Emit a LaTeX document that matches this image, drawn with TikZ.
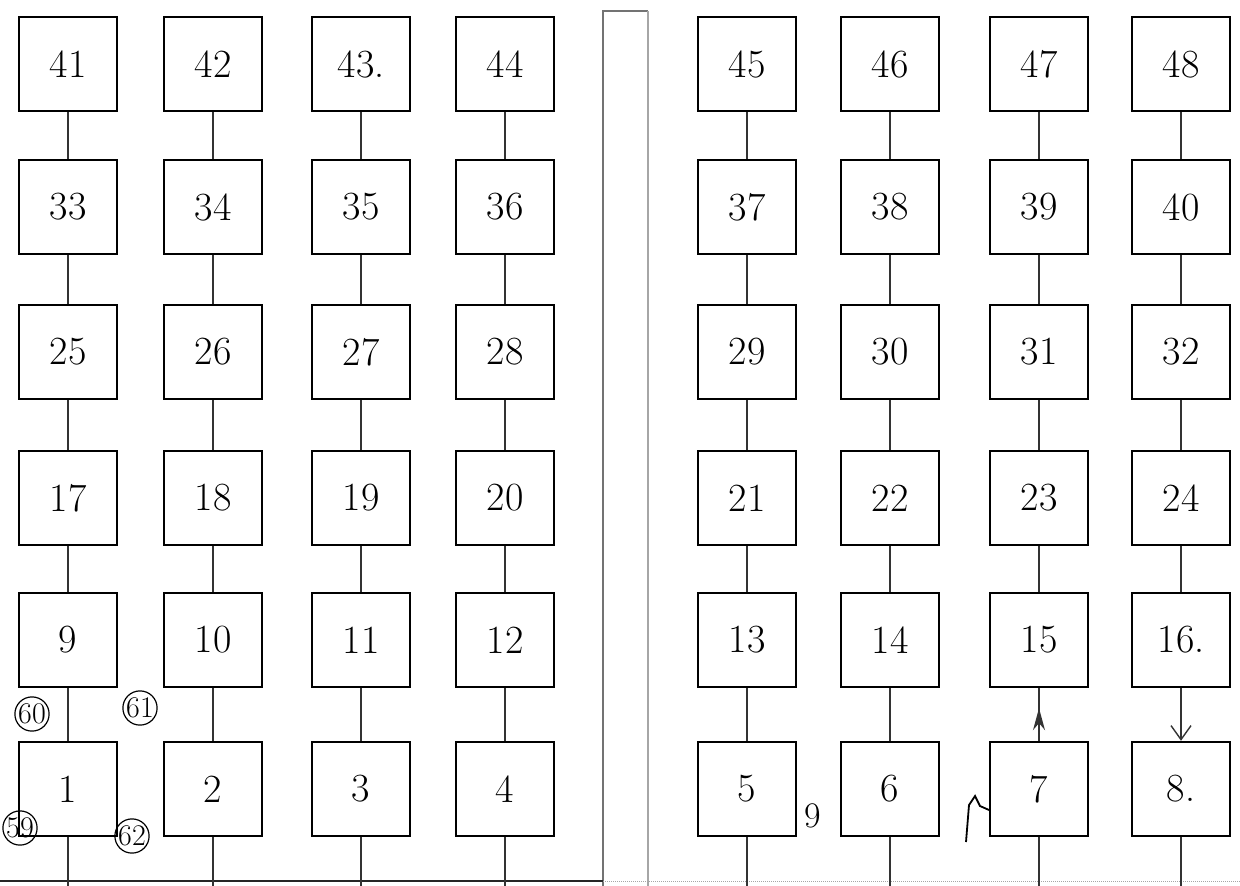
\documentclass[tikz,border=0pt]{standalone}
\usetikzlibrary{arrows.meta,decorations.markings}
\begin{document}
\begin{tikzpicture}[x=1pt,y=-1pt,
  cell/.style={draw, line width=2.4pt, minimum width=98pt, minimum height=94pt, inner sep=0pt, font=\fontsize{40}{42}\selectfont},
  link/.style={line width=1.4pt, black!80},
  note/.style={draw, circle, line width=1.2pt, inner sep=0pt, font=\fontsize{30}{32}\selectfont},
  divider/.style={line width=1.8pt, black!55}]
\useasboundingbox (0,0) rectangle (1240,886);
\coordinate (base) at (0,886);
% dividers and base line
\draw[divider] (603,886) -- (603,11) -- (648,11);
\draw[divider, black!35] (648,11) -- (648,886);
\draw[line width=1.4pt, black!85] (0,881) -- (603,881);
\draw[line width=1pt, black!35, densely dotted] (603,881) -- (1240,881);
% boxes
\foreach \k/\y in {0/789,1/640,2/498,3/352,4/207,5/64}{
  \foreach \c/\x in {1/68,2/213,3/361,4/505,5/747,6/890,7/1039,8/1181}{
    \pgfmathtruncatemacro{\n}{8*\k+\c}
    \node[cell] (b\n) at (\x,\y) {\n\ifnum\n=43.\fi\ifnum\n=16.\fi\ifnum\n=8.\fi};
  }
}
% connectors between rows
\foreach \n in {1,...,6,9,10,...,40}{
  \pgfmathtruncatemacro{\m}{\n+8}
  \draw[link] (b\n.north) -- (b\m.south);
}
\draw[link, postaction={decorate}, decoration={markings, mark=at position 0.62 with {\arrow{Stealth[length=22pt,width=12pt]}}}] (b7.north) -- (b15.south);
\draw[link, -{Straight Barb[length=14pt,width=20pt]}] (b16.south) -- (b8.north);
% lines down to the base
\foreach \n in {1,...,8}{
  \draw[link] (b\n.south) -- (b\n.south |- base);
}
% annotations
\node[note] (n60) at (32,714) {60};
\node[note] (n61) at (140,708) {61};
\node[note] (n59) at (20,828) {59};
\node[note] (n62) at (132,836) {62};
\node[font=\fontsize{36}{38}\selectfont] (n9) at (813,816) {9};
\draw[line width=1.8pt] (966,842) -- (969,805) -- (975,796) -- (980,806) -- (989,810);
\end{tikzpicture}
\end{document}
